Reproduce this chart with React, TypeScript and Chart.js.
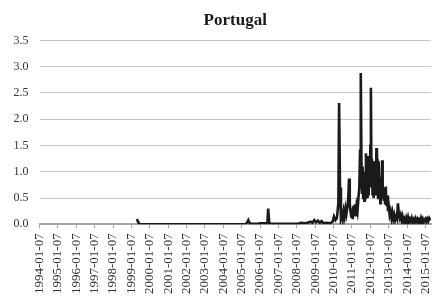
import React, { useEffect, useRef } from "react";
import { Chart, registerables } from "chart.js";

Chart.register(...registerables);

const chartTitle = "Portugal";
const tickYears = [1994, 1995, 1996, 1997, 1998, 1999, 2000, 2001, 2002, 2003, 2004, 2005, 2006, 2007, 2008, 2009, 2010, 2011, 2012, 2013, 2014, 2015];
const tickSuffix = "-01-07";
const yTicks = [0, 0.5, 1, 1.5, 2, 2.5, 3, 3.5];

const timePos = [
  1999.30, 1999.36, 1999.42, 1999.50, 2005.20, 2005.30, 2005.36, 2005.42, 2005.50, 2005.90,
  2006.00, 2006.40, 2006.44, 2006.50, 2006.60, 2007.90, 2008.10, 2008.20, 2008.50, 2008.75,
  2008.85, 2008.95, 2009.05, 2009.15, 2009.25, 2009.35, 2009.45, 2009.60, 2009.80, 2009.95,
  2010.02, 2010.10, 2010.18, 2010.26, 2010.30, 2010.35, 2010.40, 2010.45, 2010.50, 2010.55,
  2010.60, 2010.65, 2010.70, 2010.76, 2010.80, 2010.84, 2010.88, 2010.92, 2010.96, 2011.00,
  2011.04, 2011.08, 2011.12, 2011.16, 2011.20, 2011.25, 2011.30, 2011.35, 2011.40, 2011.44,
  2011.48, 2011.52, 2011.55, 2011.58, 2011.61, 2011.64, 2011.67, 2011.70, 2011.73, 2011.76,
  2011.79, 2011.82, 2011.85, 2011.88, 2011.91, 2011.94, 2011.97, 2012.00, 2012.03, 2012.06,
  2012.09, 2012.12, 2012.15, 2012.18, 2012.21, 2012.24, 2012.27, 2012.30, 2012.33, 2012.36,
  2012.39, 2012.42, 2012.45, 2012.48, 2012.51, 2012.54, 2012.57, 2012.60, 2012.64, 2012.67,
  2012.70, 2012.73, 2012.76, 2012.80, 2012.84, 2012.88, 2012.92, 2012.96, 2013.00, 2013.05,
  2013.10, 2013.15, 2013.20, 2013.25, 2013.30, 2013.35, 2013.40, 2013.45, 2013.50, 2013.55,
  2013.60, 2013.65, 2013.70, 2013.75, 2013.80, 2013.85, 2013.90, 2013.95, 2014.00, 2014.05,
  2014.10, 2014.15, 2014.20, 2014.25, 2014.30, 2014.35, 2014.40, 2014.45, 2014.50, 2014.55,
  2014.60, 2014.65, 2014.70, 2014.75, 2014.80, 2014.85, 2014.90, 2014.95, 2015.00, 2015.05,
  2015.10, 2015.15, 2015.20, 2015.28,
];

const spreadValues = [
  0.10, 0.05, 0.01, 0.00, 0.00, 0.04, 0.08, 0.03, 0.01, 0.01,
  0.02, 0.02, 0.30, 0.03, 0.01, 0.01, 0.01, 0.03, 0.02, 0.05,
  0.03, 0.08, 0.04, 0.07, 0.03, 0.06, 0.02, 0.03, 0.02, 0.05,
  0.15, 0.08, 0.12, 0.40, 2.31, 0.70, 0.12, 0.20, 0.10, 0.25,
  0.15, 0.30, 0.20, 0.35, 0.50, 0.87, 0.40, 0.25, 0.15, 0.30,
  0.10, 0.35, 0.25, 0.38, 0.15, 0.35, 0.25, 0.50, 0.70, 1.40,
  2.88, 1.00, 0.60, 1.10, 0.50, 0.85, 0.45, 1.00, 0.50, 1.35,
  0.60, 1.30, 0.50, 0.90, 0.55, 1.20, 0.70, 1.50, 2.60, 0.90,
  1.25, 0.55, 1.10, 0.50, 1.20, 0.60, 0.90, 0.55, 1.45, 0.60,
  1.25, 0.50, 1.20, 0.70, 0.90, 0.40, 0.70, 0.50, 1.22, 0.55,
  0.65, 0.45, 0.70, 0.40, 0.72, 0.35, 0.55, 0.25, 0.35, 0.18,
  0.25, 0.12, 0.22, 0.10, 0.18, 0.08, 0.14, 0.10, 0.40, 0.20,
  0.12, 0.18, 0.08, 0.15, 0.05, 0.10, 0.04, 0.12, 0.05, 0.13,
  0.04, 0.10, 0.06, 0.12, 0.05, 0.09, 0.04, 0.11, 0.06, 0.10,
  0.04, 0.09, 0.06, 0.12, 0.05, 0.10, 0.04, 0.09, 0.11, 0.05,
  0.10, 0.06, 0.12, 0.08,
];

const fontFamily = "'Liberation Serif', 'DejaVu Serif', serif";

export default function App() {
  const canvasRef = useRef<HTMLCanvasElement | null>(null);

  useEffect(() => {
    document.body.style.margin = "0";
    const canvas = canvasRef.current;
    if (!canvas) return;
    const points = timePos.map((t, i) => ({ x: t, y: spreadValues[i] }));
    const chart = new Chart(canvas, {
      type: "line",
      data: {
        datasets: [
          {
            label: chartTitle,
            data: points,
            borderColor: "#1a1a1a",
            borderWidth: 2.6,
            pointRadius: 0,
            tension: 0,
            fill: false,
          },
        ],
      },
      options: {
        animation: false,
        responsive: false,
        layout: { padding: { left: 0, right: 1, top: 0, bottom: 0 } },
        plugins: {
          legend: { display: false },
          tooltip: { enabled: false },
          title: {
            display: true,
            text: chartTitle,
            fullSize: false,
            color: "#1a1a1a",
            font: { family: fontFamily, size: 17, weight: "bold" },
            padding: { top: 10, bottom: 10 },
          },
        },
        scales: {
          x: {
            type: "linear",
            min: 1994,
            max: 2015.3,
            afterBuildTicks: (scale: any) => {
              scale.ticks = tickYears.map((v) => ({ value: v }));
            },
            afterFit: (scale: any) => {
              scale.paddingLeft = 0;
              scale.paddingRight = 0;
            },
            ticks: {
              autoSkip: false,
              minRotation: 90,
              maxRotation: 90,
              padding: 5,
              color: "#333",
              font: { family: fontFamily, size: 13 },
              callback: (v: any) => `${v}${tickSuffix}`,
            },
            grid: {
              drawOnChartArea: false,
              drawTicks: true,
              tickLength: 4,
              color: "#a6a6a6",
              lineWidth: 1,
            },
            border: { display: true, color: "#a6a6a6", width: 2 },
          },
          y: {
            min: 0,
            max: 3.5,
            afterBuildTicks: (scale: any) => {
              scale.ticks = yTicks.map((v) => ({ value: v }));
            },
            afterFit: (scale: any) => {
              scale.width = 39.5;
            },
            ticks: {
              padding: 11,
              color: "#333",
              font: { family: fontFamily, size: 12 },
              callback: (v: any) => Number(v).toFixed(1),
            },
            grid: {
              drawTicks: false,
              color: "#c4c4c4",
              lineWidth: 1,
            },
            border: { display: false },
          },
        },
      },
    });
    return () => chart.destroy();
  }, []);

  return (
    <div style={{ width: 432, height: 299 }}>
      <canvas ref={canvasRef} width={432} height={299} />
    </div>
  );
}
